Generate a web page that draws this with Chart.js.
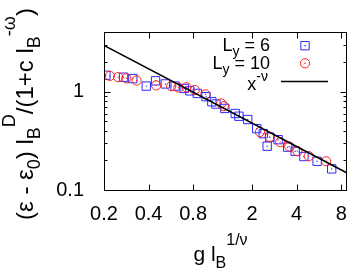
<!DOCTYPE html>
<html><head><meta charset="utf-8">
<script src="https://cdn.jsdelivr.net/npm/chart.js@4.4.1/dist/chart.umd.min.js"></script>
<style>html,body{margin:0;padding:0;background:#fff;}#wrap{width:354px;height:269px;}</style>
</head><body><div id="wrap"><canvas id="c" width="354" height="269"></canvas></div>
<script>
// Ly = 6 (blue squares)
const ly6X = [0.206,0.271,0.313,0.386,0.446,0.519,0.604,0.697,0.760,0.853,0.978,1.07,1.14,1.31,1.54,1.63,1.87,2.15,2.38,2.53,2.63,3.00,3.48,3.91,4.48,5.5,6.9];
const ly6Y = [1.47,1.405,1.36,1.14,1.29,1.20,1.14,1.08,1.02,0.96,0.89,0.79,0.75,0.676,0.60,0.563,0.521,0.421,0.374,0.279,0.345,0.325,0.273,0.248,0.219,0.196,0.164];
// Ly = 10 (red circles)
const ly10X = [0.219,0.249,0.283,0.332,0.450,0.569,0.636,0.721,0.82,0.969,1.24,1.29,2.26,2.63,3.10,3.57,4.05,4.83,6.33];
const ly10Y = [1.45,1.405,1.37,1.30,1.16,1.14,1.10,1.11,1.04,0.94,0.76,0.714,0.389,0.345,0.307,0.277,0.248,0.221,0.196];
// x^-nu guide line (end points)
const fitX = [0.2, 8.77];
const fitY = [2.96, 0.149];
const xTicks = [0.2,0.4,0.8,2,4,8];
const xTickLabels = ['0.2','0.4','0.8','2','4','8'];
const yTicks = [0.1,1];
const yTickLabels = ['0.1','1'];
const yMinorTicks = [0.2,0.3,0.4,0.5,0.6,0.7,0.8,0.9,2,3];

const FONT = "'Liberation Sans', Arial, Helvetica, sans-serif";

const pts = (xs, ys) => xs.map((x,i)=>({x:x, y:ys[i]}));

function drawRich(ctx, segs, x, y, align, st){
  let w=0;
  for(const s of segs){ ctx.font = (s.s===0?st.main:st.small)+'px '+FONT; w += ctx.measureText(s.t).width; }
  let cx = align==='center' ? x - w/2 : (align==='right' ? x - w : x);
  ctx.textBaseline = 'alphabetic'; ctx.textAlign = 'left'; ctx.fillStyle = '#000';
  for(const s of segs){
    ctx.font = (s.s===0?st.main:st.small)+'px '+FONT;
    const dy = s.s===0 ? 0 : (s.s<0 ? st.sub : st.sup);
    ctx.fillText(s.t, cx, y+dy);
    cx += ctx.measureText(s.t).width;
  }
}
const XT = {main:21, small:16, sub:6.5, sup:-16};
const YT = {main:24, small:18, sub:7, sup:-18};
const LG = {main:18, small:14, sub:5, sup:-9.5};

const decor = {
  id:'decor',
  afterDraw(chart){
    const ctx = chart.ctx, a = chart.chartArea;
    const xs = chart.scales.x, ys = chart.scales.y;
    ctx.save();
    ctx.strokeStyle = '#000'; ctx.lineWidth = 1;
    const L = Math.round(a.left)+0.5, R = Math.round(a.right)-0.5, T = Math.round(a.top)+0.5, B = Math.round(a.bottom)+0.5;
    ctx.strokeRect(L, T, R-L, B-T);
    ctx.beginPath();
    for(const v of yTicks){ const p = Math.round(ys.getPixelForValue(v))+0.5; ctx.moveTo(L,p); ctx.lineTo(L+6,p); ctx.moveTo(R,p); ctx.lineTo(R-6,p); }
    for(const v of yMinorTicks){ const p = Math.round(ys.getPixelForValue(v))+0.5; ctx.moveTo(L,p); ctx.lineTo(L+3,p); ctx.moveTo(R,p); ctx.lineTo(R-3,p); }
    for(const v of xTicks){ const p = Math.round(xs.getPixelForValue(v))+0.5; ctx.moveTo(p,B); ctx.lineTo(p,B-6); ctx.moveTo(p,T); ctx.lineTo(p,T+6); }
    ctx.stroke();
    // x title
    drawRich(ctx, [{t:'g l',s:0},{t:'B',s:-1},{t:'1/\u03bd',s:1}], 220.5, 261, 'center', XT);
    // y title
    ctx.save();
    ctx.translate(33, 114);
    ctx.rotate(-Math.PI/2);
    drawRich(ctx, [{t:'(\u03b5 - \u03b5',s:0},{t:'0',s:-1},{t:') l',s:0},{t:'B',s:-1},{t:'D',s:1},{t:'/(1+c l',s:0},{t:'B',s:-1},{t:'-\u03c9',s:1},{t:')',s:0}], 0, 0, 'center', YT);
    ctx.restore();
    // legend
    drawRich(ctx, [{t:'L',s:0},{t:'y',s:-1},{t:' = 6',s:0}], 270, 51, 'right', LG);
    drawRich(ctx, [{t:'L',s:0},{t:'y',s:-1},{t:' = 10',s:0}], 270, 69, 'right', LG);
    drawRich(ctx, [{t:'x',s:0},{t:'-\u03bd',s:1}], 268, 90, 'right', LG);
    ctx.lineWidth = 1;
    ctx.strokeStyle = '#2a2aff'; ctx.fillStyle = 'rgba(0,0,0,0)';
    Chart.helpers.drawPoint(ctx, {pointStyle:'rect', radius:5.9, borderWidth:1, rotation:0}, 305, 45.7);
    ctx.fillStyle='#2a2aff'; ctx.beginPath(); ctx.arc(305,45.7,0.8,0,Math.PI*2); ctx.fill();
    ctx.strokeStyle = '#ff2020'; ctx.fillStyle = 'rgba(0,0,0,0)';
    Chart.helpers.drawPoint(ctx, {pointStyle:'circle', radius:4.6, borderWidth:1, rotation:0}, 305, 63.3);
    ctx.fillStyle='#ff2020'; ctx.beginPath(); ctx.arc(305,63.3,0.8,0,Math.PI*2); ctx.fill();
    ctx.strokeStyle = '#000'; ctx.lineWidth = 1.5;
    ctx.beginPath(); ctx.moveTo(281,81.5); ctx.lineTo(328,81.5); ctx.stroke();
    ctx.restore();
  }
};

Chart.defaults.font.family = FONT;
new Chart(document.getElementById('c'), {
  type:'scatter',
  data:{datasets:[
    {label:'x^-nu', data:pts(fitX,fitY), showLine:true, borderColor:'#000', borderWidth:1.5, pointRadius:0, order:0},
    {label:'Ly = 6', data:pts(ly6X,ly6Y), pointStyle:'rect', pointRadius:5.9, borderColor:'#2a2aff', backgroundColor:'rgba(0,0,0,0)', borderWidth:1, order:2},
    {label:'Ly = 6 c', data:pts(ly6X,ly6Y), pointStyle:'circle', pointRadius:0.7, borderWidth:0, backgroundColor:'#2a2aff', order:2},
    {label:'Ly = 10', data:pts(ly10X,ly10Y), pointStyle:'circle', pointRadius:4.6, borderColor:'#ff2020', backgroundColor:'rgba(0,0,0,0)', borderWidth:1, order:1},
    {label:'Ly = 10 c', data:pts(ly10X,ly10Y), pointStyle:'circle', pointRadius:0.7, borderWidth:0, backgroundColor:'#ff2020', order:1}
  ]},
  options:{
    responsive:false, animation:false, devicePixelRatio:1,
    layout:{padding:{top:32,right:1,left:0,bottom:0}},
    plugins:{legend:{display:false}, tooltip:{enabled:false}},
    scales:{
      x:{type:'logarithmic', min:0.2, max:8.77,
        grid:{display:false, drawTicks:false}, border:{display:false},
        afterBuildTicks(s){ s.ticks = xTicks.map(v=>({value:v})); },
        afterFit(s){ s.height = 79; s.paddingLeft = 0; s.paddingRight = 0; },
        ticks:{autoSkip:false, maxRotation:0, color:'#000', font:{size:20}, padding:12,
          callback:(v,i)=>xTickLabels[i]}
      },
      y:{type:'logarithmic', min:0.1, max:4.05,
        grid:{display:false, drawTicks:false}, border:{display:false},
        afterBuildTicks(s){ s.ticks = yTicks.map(v=>({value:v})); },
        afterFit(s){ s.width = 104; s.paddingTop = 0; s.paddingBottom = 0; },
        ticks:{autoSkip:false, color:'#000', font:{size:20}, padding:20,
          callback:(v,i)=>yTickLabels[i]}
      }
    }
  },
  plugins:[decor]
});
</script></body></html>
